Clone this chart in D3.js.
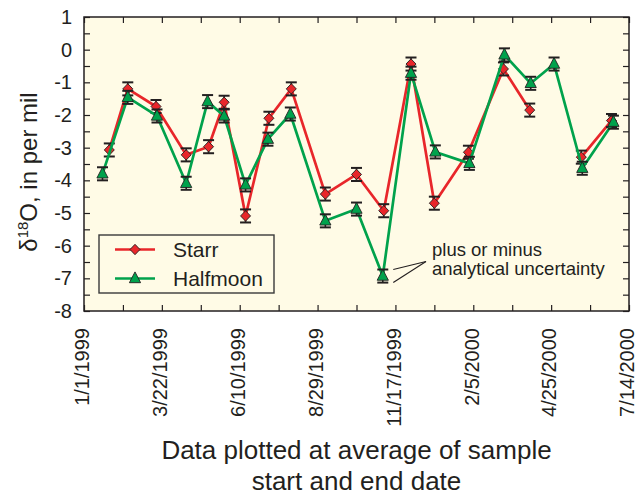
<!DOCTYPE html>
<html>
<head>
<meta charset="utf-8">
<script src="https://cdn.jsdelivr.net/npm/d3@7"></script>
<style>
  html, body { margin: 0; padding: 0; background: #ffffff; }
  svg { display: block; font-family: "Liberation Sans", Arial, Helvetica, sans-serif; }
</style>
</head>
<body>
<svg id="chart" width="639" height="495"></svg>
<script>
// ---------------- data ----------------
const xTickLabels = ["1/1/1999", "3/22/1999", "6/10/1999", "8/29/1999", "11/17/1999", "2/5/2000", "4/25/2000", "7/14/2000"];
const yTickLabels = [1, 0, -1, -2, -3, -4, -5, -6, -7, -8];

const starrDates = ["1999-01-27", "1999-02-15", "1999-03-16", "1999-04-16", "1999-05-09", "1999-05-25", "1999-06-16",
  "1999-07-10", "1999-08-02", "1999-09-06", "1999-10-08", "1999-11-05", "1999-12-03", "1999-12-27",
  "2000-01-31", "2000-03-07", "2000-04-03", "2000-04-28", "2000-05-26", "2000-06-26"];
const starrValues = [-3.07, -1.2, -1.74, -3.22, -2.97, -1.61, -5.09, -2.1, -1.2, -4.42, -3.82, -4.93, -0.44,
  -4.7, -3.14, -0.59, -1.85, null, -3.29, -2.17];

const halfmoonDates = ["1999-01-20", "1999-02-15", "1999-03-17", "1999-04-16", "1999-05-08", "1999-05-25", "1999-06-16",
  "1999-07-09", "1999-08-01", "1999-09-06", "1999-10-08", "1999-11-04", "1999-12-03", "1999-12-28",
  "2000-02-01", "2000-03-08", "2000-04-04", "2000-04-28", "2000-05-27", "2000-06-28"];
const halfmoonValues = [-3.8, -1.46, -2.03, -4.09, -1.59, -2.03, -4.14, -2.74, -1.97, -5.24, -4.88, -6.93, -0.72,
  -3.13, -3.48, -0.16, -1.03, -0.44, -3.63, -2.22];

const uncertainty = 0.2; // plus or minus analytical uncertainty, per mil

// ---------------- setup ----------------
const svg = d3.select("#chart");
const W = 639, H = 495;
const m = { left: 84, right: 10, top: 17, bottom: 184 };
const pw = W - m.left - m.right, ph = H - m.top - m.bottom;

const parseTick = d3.utcParse("%m/%d/%Y");
const parseISO = d3.utcParse("%Y-%m-%d");
const majorDates = xTickLabels.map(parseTick);
const minorDates = [];
for (let i = 0; i < majorDates.length; i++) {
  minorDates.push(majorDates[i]);
  if (i < majorDates.length - 1) {
    minorDates.push(new Date((majorDates[i].getTime() + majorDates[i + 1].getTime()) / 2));
  }
}

const x = d3.scaleUtc().domain([majorDates[0], majorDates[majorDates.length - 1]]).range([m.left, m.left + pw]);
const y = d3.scaleLinear().domain([-8, 1]).range([m.top + ph, m.top]);

const RED = "#e8262a", GREEN = "#00a24c", INK = "#231f20", BG = "#fffbe6";

const starr = starrDates.map((d, i) => ({ date: parseISO(d), v: starrValues[i] }));
const halfmoon = halfmoonDates.map((d, i) => ({ date: parseISO(d), v: halfmoonValues[i] }));

// plot background
svg.append("rect").attr("x", m.left).attr("y", m.top).attr("width", pw).attr("height", ph).attr("fill", BG);

// ---------------- axes ----------------
const halfTicks = d3.range(-8, 1.001, 0.5);
const styleAxis = g => {
  g.select(".domain").remove();
  g.selectAll(".tick line").attr("stroke", INK).attr("stroke-width", 1.2);
  g.selectAll(".tick text").attr("fill", INK);
};

svg.append("g").attr("transform", `translate(${m.left},0)`)
  .call(d3.axisLeft(y).tickValues(halfTicks).tickSize(-6).tickPadding(12)
    .tickFormat(d => yTickLabels.includes(d) ? String(d) : ""))
  .call(styleAxis)
  .call(g => g.selectAll(".tick text").attr("font-size", 20).attr("font-family", "Liberation Sans, Arial, sans-serif"));

svg.append("g").attr("transform", `translate(${m.left + pw},0)`)
  .call(d3.axisRight(y).tickValues(halfTicks).tickSize(-6).tickFormat(""))
  .call(styleAxis);

svg.append("g").attr("transform", `translate(0,${m.top + ph})`)
  .call(d3.axisBottom(x).tickValues(minorDates).tickSize(-6).tickFormat(""))
  .call(styleAxis);

svg.append("g").attr("transform", `translate(0,${m.top})`)
  .call(d3.axisTop(x).tickValues(minorDates).tickSize(-6).tickFormat(""))
  .call(styleAxis);

// rotated date labels
svg.append("g").attr("transform", `translate(0,${m.top + ph})`)
  .call(d3.axisBottom(x).tickValues(majorDates).tickSize(0).tickFormat((d, i) => xTickLabels[i]))
  .call(g => g.select(".domain").remove())
  .call(g => g.selectAll(".tick text")
    .attr("font-size", 20).attr("font-family", "Liberation Sans, Arial, sans-serif")
    .attr("fill", INK)
    .attr("transform", "rotate(-90)")
    .attr("text-anchor", "end")
    .attr("x", -17).attr("y", 0).attr("dy", "0.24em"));

// ---------------- series ----------------
const diamond = "M0,-5.2L5,0L0,5.2L-5,0Z";
const triangle = "M0,-6.6L5.6,4.2L-5.6,4.2Z";

function drawSeries(data, color, shape) {
  const g = svg.append("g");
  const line = d3.line().defined(d => d.v != null).x(d => x(d.date)).y(d => y(d.v));
  g.append("path").datum(data).attr("d", line)
    .attr("fill", "none").attr("stroke", color).attr("stroke-width", 2.7).attr("stroke-linejoin", "round");

  const pts = data.filter(d => d.v != null);
  const eb = g.append("g").attr("stroke", INK).attr("stroke-width", 1.6);
  eb.selectAll("line.v").data(pts).join("line")
    .attr("x1", d => x(d.date)).attr("x2", d => x(d.date))
    .attr("y1", d => y(d.v - uncertainty)).attr("y2", d => y(d.v + uncertainty));
  eb.selectAll("line.t").data(pts).join("line").attr("class", "t")
    .attr("x1", d => x(d.date) - 5.5).attr("x2", d => x(d.date) + 5.5)
    .attr("y1", d => y(d.v + uncertainty)).attr("y2", d => y(d.v + uncertainty)).attr("stroke-width", 2);
  eb.selectAll("line.b").data(pts).join("line").attr("class", "b")
    .attr("x1", d => x(d.date) - 5.5).attr("x2", d => x(d.date) + 5.5)
    .attr("y1", d => y(d.v - uncertainty)).attr("y2", d => y(d.v - uncertainty)).attr("stroke-width", 2);

  g.selectAll("path.mk").data(pts).join("path").attr("class", "mk")
    .attr("d", shape)
    .attr("transform", d => `translate(${x(d.date)},${y(d.v)})`)
    .attr("fill", color).attr("stroke", INK).attr("stroke-width", 0.9);
}

drawSeries(starr, RED, diamond);
drawSeries(halfmoon, GREEN, triangle);

// frame
svg.append("rect").attr("x", m.left).attr("y", m.top).attr("width", pw).attr("height", ph)
  .attr("fill", "none").attr("stroke", INK).attr("stroke-width", 1.5);

// ---------------- legend ----------------
const lg = svg.append("g").attr("transform", "translate(99,235)");
lg.append("rect").attr("width", 175).attr("height", 58).attr("fill", BG).attr("stroke", "#3a3a3a").attr("stroke-width", 1.4);
const legendItems = [{ name: "Starr", color: RED, shape: diamond }, { name: "Halfmoon", color: GREEN, shape: triangle }];
legendItems.forEach((it, i) => {
  const ly = 14.5 + i * 29;
  lg.append("line").attr("x1", 16).attr("x2", 56).attr("y1", ly).attr("y2", ly)
    .attr("stroke", it.color).attr("stroke-width", 2.7);
  lg.append("path").attr("d", it.shape).attr("transform", `translate(36,${ly})`)
    .attr("fill", it.color).attr("stroke", INK).attr("stroke-width", 0.9);
  lg.append("text").attr("x", 74).attr("y", ly).attr("dy", "0.35em")
    .attr("font-size", 21).attr("fill", INK).text(it.name);
});

// ---------------- annotation ----------------
const target = halfmoon[11];
const tx = x(target.date) + 10.5;
const ax = 426, ay = 261.5;
svg.append("g").attr("stroke", INK).attr("stroke-width", 1.1)
  .selectAll("line").data([target.v + uncertainty, target.v - uncertainty]).join("line")
  .attr("x1", tx).attr("y1", d => y(d)).attr("x2", ax).attr("y2", ay);
const at = svg.append("text").attr("font-size", 18.5).attr("fill", INK);
at.append("tspan").attr("x", 432).attr("y", 256).text("plus or minus");
at.append("tspan").attr("x", 432).attr("y", 275).text("analytical uncertainty");

// ---------------- axis titles ----------------
const yt = svg.append("text").attr("transform", "translate(37,172) rotate(-90)")
  .attr("text-anchor", "middle").attr("font-size", 24).attr("fill", INK);
yt.append("tspan").text("δ");
yt.append("tspan").attr("font-size", 15).attr("dy", -9).text("18");
yt.append("tspan").attr("dy", 9).text("O, in per mil");

const xt = svg.append("text").attr("text-anchor", "middle").attr("font-size", 26).attr("fill", INK);
xt.append("tspan").attr("x", (m.left + m.left + pw) / 2).attr("y", 459).text("Data plotted at average of sample");
xt.append("tspan").attr("x", (m.left + m.left + pw) / 2).attr("y", 490).text("start and end date");
</script>
</body>
</html>
